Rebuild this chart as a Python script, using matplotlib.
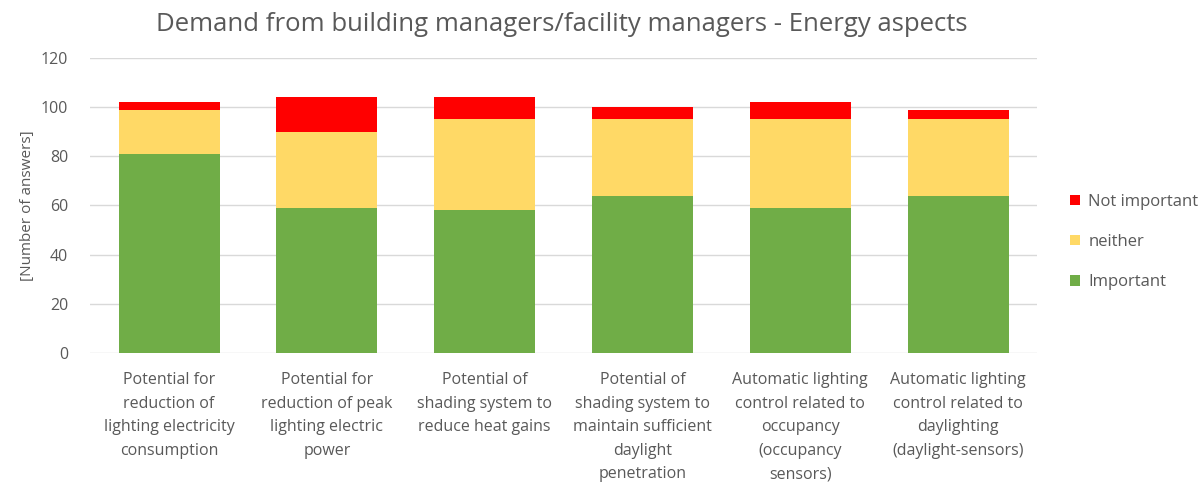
"""
stacked bars - energy aspects
"""

import matplotlib.pyplot as plt
import numpy as np

categories = [
    "Potential for\nreduction of\nlighting electricity\nconsumption",
    "Potential for\nreduction of peak\nlighting electric\npower",
    "Potential of\nshading system to\nreduce heat gains",
    "Potential of\nshading system to\nmaintain sufficient\ndaylight\npenetration",
    "Automatic lighting\ncontrol related to\noccupancy\n(occupancy\nsensors)",
    "Automatic lighting\ncontrol related to\ndaylighting\n(daylight-sensors)",
]
important = [81, 59, 58, 64, 59, 64]
neither = [18, 31, 37, 31, 36, 31]
not_important = [3, 14, 9, 5, 7, 4]

if __name__ == '__main__':
    plt.rcParams['font.family'] = ['Open Sans', 'DejaVu Sans']
    grey = '#595959'

    fig, ax = plt.subplots()
    fig.set_size_inches(12.03, 4.84)

    x = np.arange(len(categories))
    width = 0.64
    imp = np.array(important)
    nei = np.array(neither)
    b1 = ax.bar(x, imp, width, color='#70AD47', label='Important', zorder=3)
    b2 = ax.bar(x, nei, width, bottom=imp, color='#FFD966', label='neither', zorder=3)
    b3 = ax.bar(x, not_important, width, bottom=imp + nei, color='#FF0000',
                label='Not important', zorder=3)

    ax.set_ylim(0, 120)
    ax.set_xlim(-0.5, len(categories) - 0.5)
    ax.set_yticks(range(0, 121, 20))
    ax.yaxis.grid(True, color='#d9d9d9', linewidth=1, zorder=0)
    for s in ax.spines.values():
        s.set_visible(False)
    ax.tick_params(length=0, colors=grey, labelsize=11.5)
    ax.tick_params(axis='y', pad=16)
    ax.set_xticks(x)
    ax.set_xticklabels(categories, fontsize=11.5, color=grey, linespacing=1.62)
    ax.tick_params(axis='x', pad=14)
    ax.set_ylabel("[Number of answers]", fontsize=11, color=grey, labelpad=4)

    fig.suptitle("Demand from building managers/facility managers - Energy aspects",
                 fontsize=18.5, color=grey, x=0.467, y=0.975)

    fig.legend(handles=[b3, b2, b1], loc='center left',
               bbox_to_anchor=(0.877, 0.5), frameon=False,
               handlelength=0.6, handleheight=0.6, handletextpad=0.5,
               labelspacing=1.45, fontsize=12, labelcolor=grey)

    fig.subplots_adjust(left=0.075, right=0.862, bottom=0.271, top=0.88)
    fig.savefig("out.png", dpi=100)
